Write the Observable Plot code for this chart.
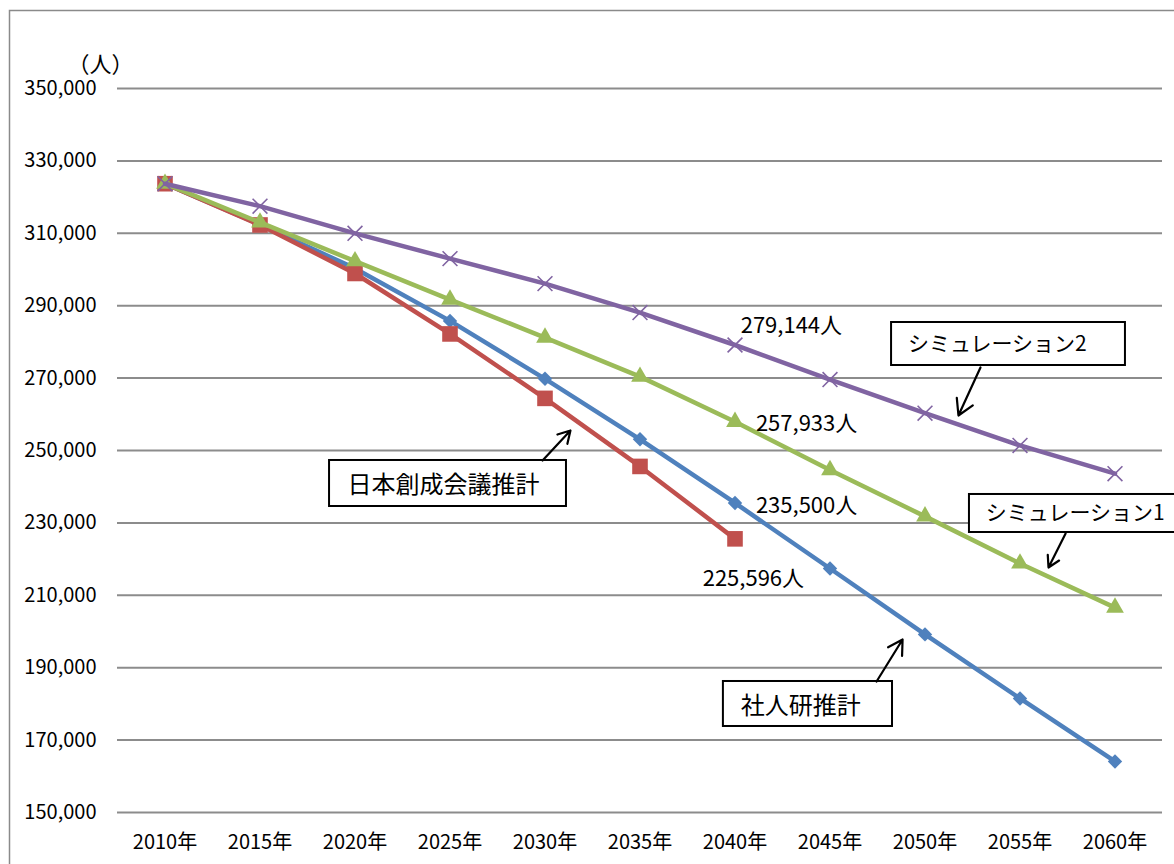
<!DOCTYPE html>
<html>
<head>
<meta charset="utf-8">
<script src="https://cdn.jsdelivr.net/npm/d3@7"></script>
<script src="https://cdn.jsdelivr.net/npm/@observablehq/plot@0.6"></script>
<style>
html, body { margin: 0; padding: 0; background: #fff; overflow: hidden; }
#chart svg { display: block; }
</style>
</head>
<body>
<div id="chart"></div>
<script>
// ---- data ----
const years = [2010, 2015, 2020, 2025, 2030, 2035, 2040, 2045, 2050, 2055, 2060];
const shajinken   = [323700, 312400, 300300, 285800, 269800, 253100, 235500, 217400, 199200, 181500, 164100]; // 社人研推計
const nihonSousei = [323700, 312300, 298900, 282200, 264400, 245600, 225596];                                  // 日本創成会議推計
const sim1        = [323700, 313000, 302300, 291700, 281200, 270400, 257933, 244600, 231800, 218800, 206600]; // シミュレーション1
const sim2        = [323700, 317500, 310000, 303000, 296100, 288100, 279144, 269600, 260300, 251400, 243600]; // シミュレーション2
const yTicks = [150000, 170000, 190000, 210000, 230000, 250000, 270000, 290000, 310000, 330000, 350000];
const xTickLabels = ["2010年","2015年","2020年","2025年","2030年","2035年","2040年","2045年","2050年","2055年","2060年"];
const yUnit = "（人）";

// value call-outs
const valueLabels = [
  { x: 2040.3, y: 284500, text: "279,144人" },
  { x: 2041.1, y: 257450, text: "257,933人" },
  { x: 2041.1, y: 234800, text: "235,500人" },
  { x: 2038.3, y: 214600, text: "225,596人" }
];
// boxed series names
const boxes = [
  { x1: 2048.24, x2: 2060.55, y1: 285360, y2: 273480, tx: 2049.1, ty: 279300, text: "シミュレーション2", size: 21 },
  { x1: 2052.34, x2: 2064.5,  y1: 237850, y2: 227350, tx: 2053.2, ty: 232600, text: "シミュレーション1", size: 21 },
  { x1: 2018.66, x2: 2031.13, y1: 247240, y2: 234530, tx: 2019.6, ty: 240400, text: "日本創成会議推計", size: 24 },
  { x1: 2039.39, x2: 2048.29, y1: 186190, y2: 173760, tx: 2040.3, ty: 179300, text: "社人研推計", size: 24 }
];
const arrows = [
  { x1: 2052.92, y1: 272930, x2: 2051.76, y2: 259670 },
  { x1: 2057.40, y1: 227070, x2: 2056.50, y2: 217680 },
  { x1: 2029.87, y1: 247240, x2: 2031.34, y2: 255520 },
  { x1: 2047.45, y1: 186190, x2: 2048.82, y2: 197790 }
];

// ---- tables ----
const toRows = vals => vals.map((v, i) => ({ year: years[i], value: v }));
const sBlue = toRows(shajinken), sRed = toRows(nihonSousei), sGreen = toRows(sim1), sPurple = toRows(sim2);

const font = "'Noto Sans CJK JP', 'Noto Sans', sans-serif";
const LW = 4.5;

const chart = Plot.plot({
  width: 1174,
  height: 864,
  marginLeft: 117,
  marginRight: 12,
  marginTop: 88,
  marginBottom: 52,
  style: { fontFamily: font, fontSize: "20px", background: "white", color: "black" },
  x: { type: "linear", domain: [2007.5, 2062.5] },
  y: { type: "linear", domain: [150000, 350000] },
  marks: [
    Plot.frame({ stroke: "#8a8a8a", strokeWidth: 1.5, insetLeft: -108, insetTop: -78, insetRight: -40, insetBottom: -80 }),
    Plot.ruleY(yTicks, { stroke: "#8c8c8c", strokeWidth: 2 }),
    Plot.axisY({ ticks: yTicks, tickFormat: d3.format(","), tickSize: 0, tickPadding: 21, fontSize: 20, label: null }),
    Plot.axisX({ ticks: years, tickFormat: d => xTickLabels[years.indexOf(d)], tickSize: 0, tickPadding: 22, fontSize: 20, label: null }),
    Plot.text([yUnit], { frameAnchor: "top-left", dx: -17, dy: -32, text: d => d, textAnchor: "middle", fontSize: 22 }),

    Plot.line(sBlue, { x: "year", y: "value", stroke: "#4f81bd", strokeWidth: LW }),
    Plot.dot(sBlue, { x: "year", y: "value", symbol: "diamond2", fill: "#4f81bd", stroke: "none", r: 6.5 }),

    Plot.line(sRed, { x: "year", y: "value", stroke: "#c0504d", strokeWidth: LW }),
    Plot.dot(sRed, { x: "year", y: "value", symbol: "square", fill: "#c0504d", stroke: "none", r: 8.8 }),

    Plot.line(sGreen, { x: "year", y: "value", stroke: "#9bbb59", strokeWidth: LW }),
    Plot.dot(sGreen, { x: "year", y: "value", symbol: "triangle", fill: "#9bbb59", stroke: "none", r: 6.6 }),

    Plot.line(sPurple, { x: "year", y: "value", stroke: "#8064a2", strokeWidth: LW }),
    Plot.dot(sPurple, { x: "year", y: "value", symbol: "times", fill: "none", stroke: "#8064a2", strokeWidth: 1.6, r: 6.8 }),

    Plot.text(valueLabels, { x: "x", y: "y", text: "text", textAnchor: "start", fontSize: 22 }),
    Plot.rect(boxes, { x1: "x1", x2: "x2", y1: "y1", y2: "y2", fill: "white", stroke: "black", strokeWidth: 2 }),
    Plot.text(boxes, { x: "tx", y: "ty", text: "text", textAnchor: "start", fontSize: d => d.size }),
    Plot.arrow(arrows, { x1: "x1", y1: "y1", x2: "x2", y2: "y2", stroke: "black", strokeWidth: 2.2, headLength: 13, bend: 0 })
  ]
});
document.getElementById("chart").appendChild(chart);
</script>
</body>
</html>
